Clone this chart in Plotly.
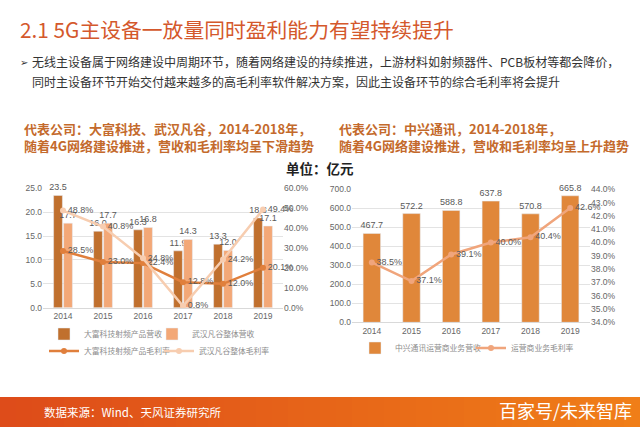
import plotly.graph_objects as go

# ---------------- data ----------------
years = ["2014", "2015", "2016", "2017", "2018", "2019"]
dafu_rev = [23.5, 16.0, 16.3, 11.9, 13.3, 18.8]
fangu_rev = [17.7, 17.7, 16.8, 14.3, 12.0, 17.1]
dafu_margin = [28.5, 23.0, 22.4, 12.8, 12.0, 20.1]
fangu_margin = [48.8, 40.8, 24.8, 0.8, 24.2, 49.4]

zte_rev = [467.7, 572.2, 588.8, 637.8, 570.8, 665.8]
zte_margin = [38.5, 37.1, 39.1, 40.0, 40.4, 42.6]

W, H = 640, 427
def px(x):
    return x / W
def py(y):
    return 1 - y / H

CJK = "Noto Sans CJK SC"
NUM = "Liberation Sans"
C_DARK = "#C0702E"
C_LIGHT = "#F3A877"
C_LINE_D = "#E07F3C"
C_LINE_L = "#F7CDB0"
C_ZTE_BAR = "#E0873A"
C_ZTE_LINE = "#F0A57C"
LBL = dict(family=NUM, size=9, color="#595959")

fig = go.Figure()

# ---- left chart ----
fig.add_trace(go.Bar(x=years, y=dafu_rev, name="大富科技射频产品营收", marker_color=C_DARK,
                     text=[f"{v:.1f}" for v in dafu_rev], textposition="outside", constraintext="none",
                     textfont=LBL, cliponaxis=False, xaxis="x", yaxis="y", legend="legend"))
fig.add_trace(go.Bar(x=years, y=fangu_rev, name="武汉凡谷整体营收", marker_color=C_LIGHT,
                     text=[f"{v:.1f}" for v in fangu_rev], textposition="outside", constraintext="none",
                     textfont=LBL, cliponaxis=False, xaxis="x", yaxis="y", legend="legend"))
fig.add_trace(go.Scatter(x=years, y=dafu_margin, name="大富科技射频产品毛利率", mode="lines+markers+text",
                         line=dict(color=C_LINE_D, width=2.5), marker=dict(size=6, color=C_LINE_D),
                         text=[f"{v:.1f}%" for v in dafu_margin], textposition="middle right",
                         textfont=LBL, cliponaxis=False, xaxis="x", yaxis="y2", legend="legend2"))
fig.add_trace(go.Scatter(x=years, y=fangu_margin, name="武汉凡谷整体毛利率", mode="lines+markers+text",
                         line=dict(color=C_LINE_L, width=2.5), marker=dict(size=6, color=C_LINE_L),
                         text=[f"{v:.1f}%" for v in fangu_margin], textposition="middle right",
                         textfont=LBL, cliponaxis=False, xaxis="x", yaxis="y2", legend="legend2"))

# ---- right chart ----
fig.add_trace(go.Bar(x=years, y=zte_rev, name="中兴通讯运营商业务营收", marker_color=C_ZTE_BAR,
                     text=[f"{v:.1f}" for v in zte_rev], textposition="outside", constraintext="none",
                     textfont=LBL, cliponaxis=False, xaxis="x2", yaxis="y3", legend="legend3"))
fig.add_trace(go.Scatter(x=years, y=zte_margin, name="运营商业务毛利率", mode="lines+markers+text",
                         line=dict(color=C_ZTE_LINE, width=2.5), marker=dict(size=6, color=C_ZTE_LINE),
                         text=[f"{v:.1f}%" for v in zte_margin], textposition="middle right",
                         textfont=LBL, cliponaxis=False, xaxis="x2", yaxis="y4", legend="legend3"))

tickf = dict(family=NUM, size=8.5, color="#666666")
grid = "#E3E3E3"

legend_common = dict(orientation="h", bgcolor="rgba(0,0,0,0)", font=dict(family=CJK, size=7.8, color="#8C8C8C"),
                     xanchor="left", yanchor="middle", entrywidthmode="pixels", itemwidth=30,
                     tracegroupgap=0, itemclick=False)

fig.update_layout(
    width=W, height=H, margin=dict(l=0, r=0, t=0, b=0, autoexpand=False),
    paper_bgcolor="white", plot_bgcolor="white",
    barmode="group", bargap=0.5, bargroupgap=0.12,
    xaxis=dict(domain=[px(43), px(283)], anchor="y", tickfont=tickf, showline=True, linecolor="#D9D9D9",
               ticks="", showgrid=False, automargin=False),
    yaxis=dict(domain=[py(307.7), py(188.3)], anchor="x", range=[0, 25], dtick=5, tickformat=".1f",
               tickfont=tickf, gridcolor=grid, zeroline=False, ticks="", automargin=False),
    yaxis2=dict(overlaying="y", side="right", anchor="x", range=[0, 60], dtick=10, tickformat=".1f",
                ticksuffix="%", tickfont=tickf, showgrid=False, zeroline=False, automargin=False),
    xaxis2=dict(domain=[px(352), px(590)], anchor="y3", tickfont=tickf, showline=True, linecolor="#D9D9D9",
                ticks="", showgrid=False, automargin=False),
    yaxis3=dict(domain=[py(322.3), py(189.3)], anchor="x2", range=[0, 700], dtick=100, tickformat=".1f",
                tickfont=tickf, gridcolor=grid, zeroline=False, automargin=False),
    yaxis4=dict(overlaying="y3", side="right", anchor="x2", range=[34, 44], dtick=1, tickformat=".1f",
                ticksuffix="%", tickfont=tickf, showgrid=False, zeroline=False, automargin=False),
    legend=dict(x=px(44), y=py(334), entrywidth=63, **legend_common),
    legend2=dict(x=px(44), y=py(351), entrywidth=70, **legend_common),
    legend3=dict(x=px(355), y=py(348), entrywidth=71, **legend_common),
    showlegend=True,
)

# ---- footer gradient band ----
n = 40
c0 = (222, 76, 26)
c1 = (240, 126, 24)
for i in range(n):
    t = i / (n - 1)
    c = tuple(int(c0[k] + (c1[k] - c0[k]) * t) for k in range(3))
    fig.add_shape(type="rect", xref="paper", yref="paper", x0=i / n, x1=(i + 1) / n + 0.002,
                  y0=0, y1=py(397), fillcolor=f"rgb{c}", line_width=0, layer="below")

ann = []
def text(x, y, s, size, color, anchor="left", bold=False, family=CJK):
    ann.append(dict(x=px(x), y=py(y), xref="paper", yref="paper", text=(f"<b>{s}</b>" if bold else s),
                    showarrow=False, xanchor=anchor, yanchor="middle",
                    font=dict(family=family, size=size, color=color)))

text(18, 29, "2.1 5G主设备一放量同时盈利能力有望持续提升", 20.8, "#D4582C")
text(18, 62, "➢", 10, "#333333")
text(30, 62, "无线主设备属于网络建设中周期环节，随着网络建设的持续推进，上游材料如射频器件、PCB板材等都会降价，", 12, "#333333")
text(30, 81, "同时主设备环节开始交付越来越多的高毛利率软件解决方案，因此主设备环节的综合毛利率将会提升", 12, "#333333")

text(22, 128, "代表公司：大富科技、武汉凡谷，2014-2018年，", 13, "#C46A2C", bold=True)
text(22, 146, "随着4G网络建设推进，营收和毛利率均呈下滑趋势", 13, "#C46A2C", bold=True)
text(337, 128, "代表公司：中兴通讯，2014-2018年，", 13, "#C46A2C", bold=True)
text(337, 146, "随着4G网络建设推进，营收和毛利率均呈上升趋势", 13, "#C46A2C", bold=True)
text(320, 168, "单位：亿元", 13.5, "#222222", anchor="center", bold=True)

text(42, 412, "数据来源：Wind、天风证券研究所", 11.5, "white")
text(634, 410, "百家号/未来智库", 18, "white", anchor="right")

fig.update_layout(annotations=ann)

fig.write_html("out.html", config={"displayModeBar": False},
               post_script="document.body.style.margin='0px';document.body.style.overflow='hidden';")
